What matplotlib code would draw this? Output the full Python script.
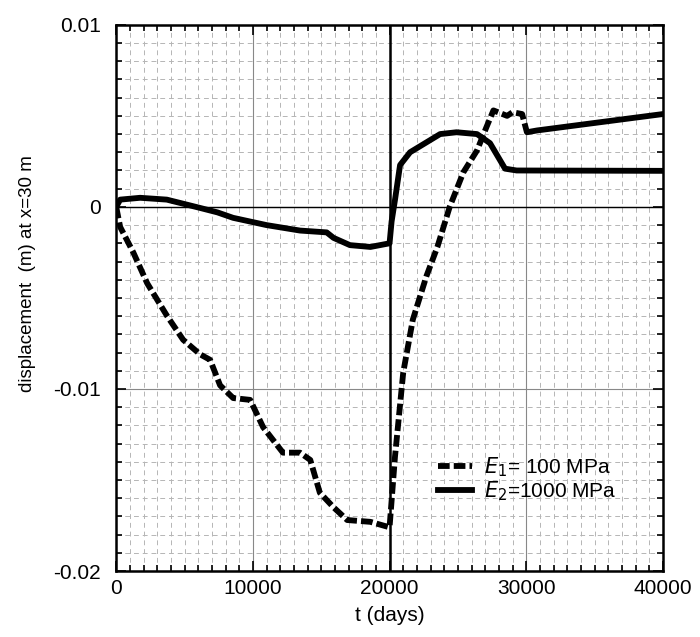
import numpy as np
import matplotlib
matplotlib.use("Agg")
import matplotlib.pyplot as plt
from matplotlib.lines import Line2D
from matplotlib.ticker import MultipleLocator

plt.rcParams['font.family'] = ['Liberation Sans', 'DejaVu Sans']
plt.rcParams['axes.unicode_minus'] = False

# E2 = 1000 MPa (thick solid)
t_e2 = [0, 290, 1750, 3700, 6100, 7400, 8550, 11000, 13450, 15400, 15900,
        17100, 18600, 20000, 20150, 20400, 20770, 21500, 23700, 24900, 26400,
        27350, 28450, 29300, 40000]
d_e2 = [0.0, 0.0004, 0.0005, 0.0004, -0.00005, -0.0003, -0.0006, -0.001,
        -0.0013, -0.0014, -0.0017, -0.0021, -0.0022, -0.002, -0.0008, 0.0004,
        0.0023, 0.003, 0.004, 0.0041, 0.004, 0.0035, 0.0021, 0.002, 0.00198]

# E1 = 100 MPa (thick dashed, solid after 30000)
t_e1 = [0, 290, 1250, 2270, 3730, 4900, 6140, 6870, 7600, 8560, 9800, 10750,
        12200, 13450, 14200, 14900, 15900, 16900, 18600, 20000, 20400, 21000,
        21700, 22700, 23500, 24400, 25400, 26400, 27100, 27600, 28600, 29000,
        29700, 30050, 30800, 40000]
d_e1 = [0.0, -0.0011, -0.0025, -0.0042, -0.006, -0.0073, -0.0081, -0.0084,
        -0.0098, -0.0105, -0.0106, -0.0121, -0.0135, -0.0135, -0.0139, -0.0157,
        -0.0165, -0.0172, -0.0173, -0.0176, -0.0137, -0.0091, -0.0062, -0.0038,
        -0.0022, 0.0, 0.0019, 0.0031, 0.0044, 0.0053, 0.005, 0.0052, 0.0051,
        0.0041, 0.0042, 0.0051]
split_t = 30050

xticks = [0, 10000, 20000, 30000, 40000]
yticks = [-0.02, -0.01, 0, 0.01]
ytick_labels = ['-0.02', '-0.01', '0', '0.01']

fig = plt.figure(figsize=(7.0, 6.37), dpi=100)
ax = fig.add_axes([0.166, 0.1036, 0.781, 0.8574])

# background texture of the scanned page: light dashed minor grid
ax.xaxis.set_minor_locator(MultipleLocator(1000))
ax.yaxis.set_minor_locator(MultipleLocator(0.001))
ax.grid(which='minor', color='#b5b5b5', lw=0.7, ls=(0, (5, 4)))
ax.grid(which='major', color='#888888', lw=0.8, ls='-')

ax.axhline(0, color='k', lw=1.0, zorder=2)
ax.axvline(20000, color='k', lw=1.8, zorder=2)

t1 = np.asarray(t_e1)
d1 = np.asarray(d_e1)
m = t1 <= split_t
ax.plot(t1[m], d1[m], color='k', lw=4.2, ls=(0, (2.0, 0.7)), zorder=3)
ax.plot(t1[t1 >= split_t], d1[t1 >= split_t], color='k', lw=4.2,
        solid_capstyle='round', zorder=3)
ax.plot(t_e2, d_e2, color='k', lw=4.2, solid_capstyle='round',
        solid_joinstyle='round', zorder=3)

ax.set_xlim(0, 40000)
ax.set_ylim(-0.02, 0.01)
ax.set_xticks(xticks)
ax.set_xticklabels([str(v) for v in xticks])
ax.set_yticks(yticks)
ax.set_yticklabels(ytick_labels)
ax.tick_params(which='both', direction='in', top=True, right=True,
               labelsize=15, width=1.2)
ax.tick_params(axis='x', pad=6)
ax.tick_params(axis='y', pad=11)
ax.tick_params(which='major', length=7)
ax.tick_params(which='minor', length=4)
for s in ax.spines.values():
    s.set_linewidth(1.8)

ax.set_xlabel('t (days)', fontsize=15)
ax.xaxis.set_label_coords(0.5, -0.064)
ax.set_ylabel('displacement  (m) at x=30 m', fontsize=13.5)
ax.yaxis.set_label_coords(-0.146, 0.544)

handles = [Line2D([], [], color='k', lw=4.2, ls=(0, (2.0, 0.7))),
           Line2D([], [], color='k', lw=4.2)]
leg = ax.legend(handles, [r'$E_1$= 100 MPa', r'$E_2$=1000 MPa'],
                loc='center left', bbox_to_anchor=(0.589, 0.168),
                frameon=False, fontsize=15, handlelength=1.6,
                handletextpad=0.6, labelspacing=0.05, borderpad=0,
                borderaxespad=0)

fig.savefig('out.png', dpi=100)
